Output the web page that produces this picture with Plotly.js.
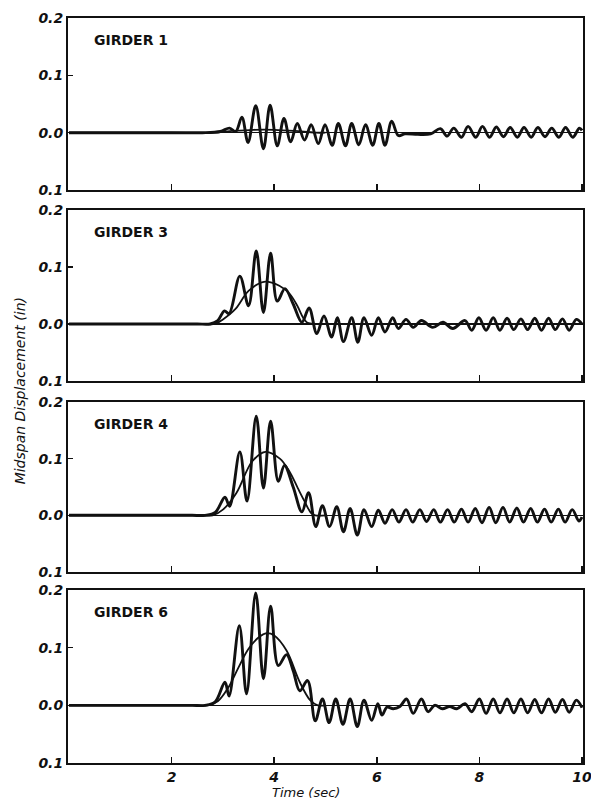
<!DOCTYPE html>
<html>
<head>
<meta charset="utf-8">
<script src="https://cdn.plot.ly/plotly-3.0.1.min.js"></script>
<style>html,body{margin:0;padding:0;background:#fff;}#chart{width:591px;height:806px;}</style>
</head>
<body>
<div id="chart"></div>
<script>
// ---- Data ----
const labels = ['GIRDER 1', 'GIRDER 3', 'GIRDER 4', 'GIRDER 6'];
const xTickVals = [2, 4, 6, 8, 10];
const xTickText = ['2', '4', '6', '8', '10'];
const yTickVals = [-0.1, 0, 0.1, 0.2];
const yTickText = ['0.1', '0.0', '0.1', '0.2'];

// Girder 1 dynamic response (extrema), in
const t1 = [0, 1, 2, 2.4, 2.6, 2.95, 3.13, 3.25, 3.37, 3.49, 3.64, 3.79, 3.92, 4.06, 4.19, 4.32, 4.45, 4.59, 4.72, 4.86, 4.99, 5.13, 5.25, 5.39, 5.51, 5.65, 5.78, 5.92, 6.04, 6.16, 6.29, 6.42, 6.55, 6.8, 7.05, 7.24, 7.37, 7.5, 7.65, 7.78, 7.93, 8.06, 8.2, 8.33, 8.47, 8.6, 8.74, 8.87, 9.01, 9.14, 9.28, 9.41, 9.55, 9.68, 9.82, 9.95, 10];
const d1 = [0, 0, 0, 0, 0, 0.002, 0.008, 0.002, 0.027, -0.017, 0.047, -0.028, 0.048, -0.023, 0.025, -0.016, 0.016, -0.013, 0.014, -0.019, 0.014, -0.022, 0.016, -0.023, 0.016, -0.021, 0.014, -0.022, 0.016, -0.022, 0.02, -0.005, -0.002, -0.003, -0.002, 0.007, -0.006, 0.008, -0.008, 0.011, -0.008, 0.011, -0.008, 0.01, -0.007, 0.009, -0.008, 0.009, -0.008, 0.009, -0.007, 0.008, -0.008, 0.009, -0.008, 0.008, 0.004];
// Girder 1 static response
const ts1 = [0, 1, 2, 2.8, 3.2, 3.6, 4.0, 4.4, 4.8, 5.0];
const s1 = [0, 0, 0, 0, 0.003, 0.005, 0.005, 0.003, 0, 0];

// Girder 3
const t2 = [0, 1, 2, 2.5, 2.75, 2.9, 3.03, 3.12, 3.33, 3.5, 3.65, 3.79, 3.93, 4.06, 4.21, 4.37, 4.54, 4.68, 4.83, 4.97, 5.12, 5.23, 5.35, 5.51, 5.63, 5.75, 5.9, 6.03, 6.16, 6.31, 6.42, 6.57, 6.71, 6.87, 7.09, 7.29, 7.48, 7.72, 7.85, 7.99, 8.13, 8.27, 8.4, 8.54, 8.67, 8.81, 8.94, 9.08, 9.21, 9.35, 9.48, 9.62, 9.75, 9.89, 10];
const d2 = [0, 0, 0, 0, 0, 0.006, 0.023, 0.018, 0.084, 0.032, 0.128, 0.02, 0.124, 0.04, 0.062, 0.035, 0.003, 0.028, -0.017, 0.014, -0.023, 0.011, -0.031, 0.011, -0.032, 0.011, -0.02, 0.011, -0.014, 0.011, -0.008, 0.008, -0.006, 0.006, -0.006, 0.003, -0.008, 0.006, -0.011, 0.011, -0.011, 0.011, -0.011, 0.01, -0.01, 0.009, -0.01, 0.01, -0.011, 0.01, -0.01, 0.009, -0.011, 0.008, 0.0];
const ts2 = [0, 1, 2, 2.6, 2.85, 3.0, 3.25, 3.5, 3.8, 4.1, 4.3, 4.45, 4.57, 4.65, 4.8, 5.0];
const s2 = [0, 0, 0, 0, 0, 0.008, 0.027, 0.058, 0.074, 0.067, 0.053, 0.032, 0.01, 0.002, 0, 0];

// Girder 4
const t3 = [0, 1, 2, 2.4, 2.65, 2.85, 3.04, 3.13, 3.33, 3.47, 3.65, 3.79, 3.93, 4.08, 4.2, 4.37, 4.54, 4.67, 4.81, 4.94, 5.08, 5.22, 5.35, 5.48, 5.62, 5.75, 5.9, 6.03, 6.16, 6.3, 6.43, 6.57, 6.7, 6.84, 6.97, 7.11, 7.24, 7.38, 7.51, 7.65, 7.78, 7.92, 8.05, 8.19, 8.32, 8.46, 8.59, 8.73, 8.86, 9.0, 9.13, 9.27, 9.4, 9.54, 9.67, 9.81, 9.94, 10];
const d3 = [0, 0, 0, 0, 0, 0.005, 0.032, 0.016, 0.112, 0.025, 0.175, 0.048, 0.166, 0.06, 0.088, 0.05, 0.006, 0.04, -0.02, 0.017, -0.02, 0.015, -0.029, 0.012, -0.035, 0.01, -0.02, 0.009, -0.014, 0.01, -0.012, 0.01, -0.012, 0.01, -0.011, 0.01, -0.012, 0.01, -0.012, 0.011, -0.012, 0.012, -0.013, 0.014, -0.013, 0.014, -0.012, 0.013, -0.012, 0.012, -0.012, 0.011, -0.012, 0.011, -0.012, 0.01, -0.01, -0.003];
const ts3 = [0, 1, 2, 2.55, 2.8, 3.0, 3.26, 3.57, 3.83, 4.11, 4.3, 4.46, 4.59, 4.72, 4.8, 5.0];
const s3 = [0, 0, 0, 0, 0, 0.01, 0.039, 0.095, 0.112, 0.1, 0.077, 0.048, 0.025, 0.004, 0, 0];

// Girder 6
const t4 = [0, 1, 2, 2.4, 2.65, 2.85, 3.04, 3.12, 3.32, 3.46, 3.64, 3.79, 3.93, 4.08, 4.24, 4.37, 4.5, 4.65, 4.8, 4.94, 5.07, 5.2, 5.34, 5.48, 5.62, 5.75, 5.9, 6.02, 6.1, 6.2, 6.32, 6.45, 6.58, 6.71, 6.87, 7.0, 7.13, 7.28, 7.42, 7.56, 7.72, 7.85, 8.0, 8.13, 8.27, 8.4, 8.54, 8.67, 8.81, 8.94, 9.08, 9.21, 9.35, 9.48, 9.62, 9.75, 9.89, 10];
const d4 = [0, 0, 0, 0, 0, 0.006, 0.04, 0.016, 0.138, 0.02, 0.195, 0.046, 0.172, 0.069, 0.088, 0.06, 0.025, 0.043, -0.027, 0.011, -0.03, 0.011, -0.033, 0.011, -0.037, 0.009, -0.026, 0.003, -0.017, -0.003, -0.006, -0.002, 0.011, -0.014, 0.011, -0.011, 0.0, -0.006, -0.002, -0.006, 0.003, -0.011, 0.011, -0.014, 0.011, -0.013, 0.011, -0.013, 0.011, -0.013, 0.01, -0.013, 0.011, -0.012, 0.01, -0.012, 0.009, -0.004];
const ts4 = [0, 1, 2, 2.45, 2.7, 2.9, 3.1, 3.3, 3.5, 3.7, 3.85, 4.0, 4.24, 4.5, 4.7, 4.85, 5.0];
const s4 = [0, 0, 0, 0, 0, 0.007, 0.03, 0.065, 0.098, 0.118, 0.125, 0.121, 0.095, 0.04, 0.009, 0, 0];

// ---- Build ----
const dynT = [t1, t2, t3, t4], dynV = [d1, d2, d3, d4];
const stT = [ts1, ts2, ts3, ts4], stV = [s1, s2, s3, s4];
const domains = [[0.7691, 1], [0.5128, 0.7423], [0.2564, 0.4846], [0, 0.2322]];
const ink = '#111';
const tickFont = {family: 'DejaVu Sans', size: 14, weight: 'bold', style: 'italic', color: ink};

const traces = [];
const layout = {
  width: 591, height: 806,
  margin: {l: 68, r: 8, t: 18, b: 43},
  paper_bgcolor: '#fff', plot_bgcolor: '#fff',
  showlegend: false,
  annotations: []
};

for (let i = 0; i < 4; i++) {
  const sfx = i === 0 ? '' : String(i + 1);
  traces.push({
    x: stT[i], y: stV[i], type: 'scatter', mode: 'lines',
    line: {color: ink, width: 1.8, shape: 'spline', smoothing: 1},
    xaxis: 'x' + sfx, yaxis: 'y' + sfx, hoverinfo: 'skip'
  });
  traces.push({
    x: dynT[i], y: dynV[i], type: 'scatter', mode: 'lines',
    line: {color: ink, width: 2.9, shape: 'spline', smoothing: 1},
    xaxis: 'x' + sfx, yaxis: 'y' + sfx, hoverinfo: 'skip'
  });
  layout['xaxis' + sfx] = {
    domain: [0, 1], range: [-0.02, 10.02], anchor: 'y' + sfx,
    showgrid: false, zeroline: false,
    showline: true, mirror: true, linecolor: ink, linewidth: 2,
    ticks: 'inside', ticklen: 6, tickwidth: 1.5, tickcolor: ink,
    tickvals: xTickVals, ticktext: xTickText,
    showticklabels: i === 3, tickfont: tickFont,
    ticklabeloverflow: 'allow'
  };
  layout['yaxis' + sfx] = {
    domain: domains[i], range: [-0.1, 0.2], anchor: 'x' + sfx,
    showgrid: false,
    zeroline: true, zerolinecolor: ink, zerolinewidth: 1.5,
    showline: true, mirror: true, linecolor: ink, linewidth: 2,
    ticks: 'inside', ticklen: 5, tickwidth: 1.5, tickcolor: ink,
    tickvals: yTickVals, ticktext: yTickText, tickfont: tickFont
  };
  layout.annotations.push({
    text: labels[i], xref: 'x' + sfx + ' domain', yref: 'y' + sfx + ' domain',
    x: 0.046, y: 0.87, xanchor: 'left', yanchor: 'middle', showarrow: false,
    font: {family: 'DejaVu Sans', size: 14, weight: 'bold', color: ink}
  });
}

layout.annotations.push({
  text: 'Midspan Displacement (in)', xref: 'paper', yref: 'paper',
  x: -0.093, y: 0.499, xanchor: 'center', yanchor: 'middle', textangle: -90,
  showarrow: false,
  font: {family: 'DejaVu Sans', size: 14, style: 'italic', color: ink}
});
layout.annotations.push({
  text: 'Time (sec)', xref: 'paper', yref: 'paper',
  x: 0.462, y: -0.04, xanchor: 'center', yanchor: 'middle',
  showarrow: false,
  font: {family: 'DejaVu Sans', size: 13, style: 'italic', color: ink}
});

Plotly.newPlot('chart', traces, layout, {staticPlot: true, displayModeBar: false});
</script>
</body>
</html>
